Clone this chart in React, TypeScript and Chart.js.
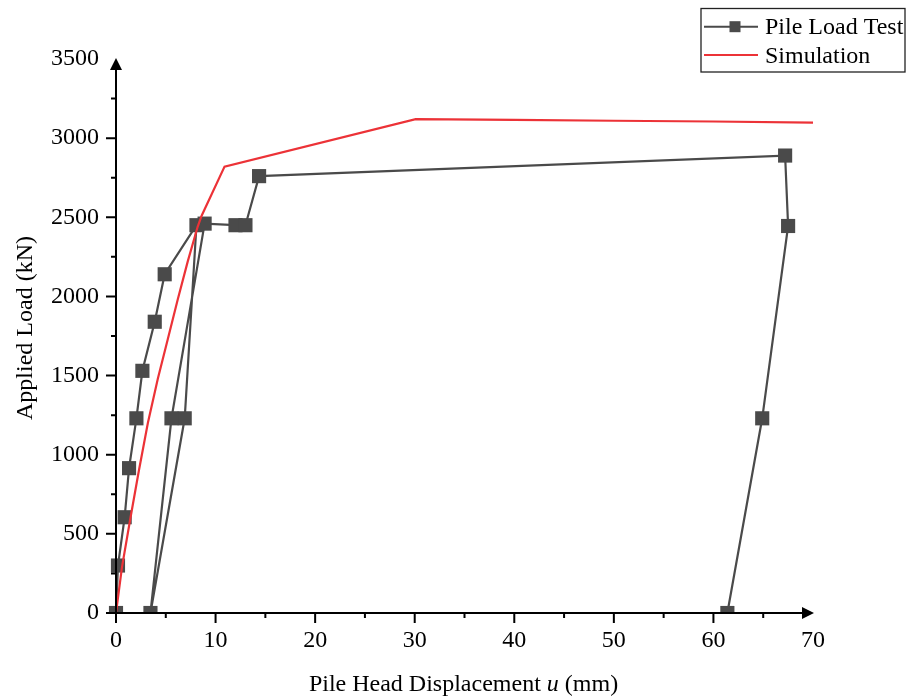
import React, { useEffect, useRef } from "react";
import { Chart, registerables } from "chart.js";

Chart.register(...registerables);

// ---- data ----
const testDisp = [0, 0.2, 0.87, 1.31, 2.05, 2.65, 3.89, 4.89, 8.08, 6.9, 3.46, 5.57, 8.9, 12.0, 13.0, 14.37, 67.2, 67.5, 64.9, 61.4];
const testLoad = [0, 300, 605, 915, 1230, 1530, 1840, 2140, 2450, 1230, 0, 1230, 2460, 2450, 2450, 2760, 2890, 2445, 1230, 0];

const simDisp = [0, 0.6, 1.45, 2.3, 3.2, 4.2, 5.2, 6.2, 7.2, 8.2, 8.6, 10.9, 30.1, 40, 50, 60, 70];
const simLoad = [0, 290, 600, 900, 1200, 1480, 1730, 1980, 2220, 2440, 2510, 2820, 3120, 3115, 3110, 3105, 3098];

const xTickValues = [0, 10, 20, 30, 40, 50, 60, 70];
const yTickValues = [0, 500, 1000, 1500, 2000, 2500, 3000, 3500];
const xMinorValues = [5, 15, 25, 35, 45, 55, 65];
const yMinorValues = [250, 750, 1250, 1750, 2250, 2750, 3250];

const seriesNames = ["Pile Load Test", "Simulation"];
const xTitleParts = ["Pile Head Displacement ", "u", " (mm)"];
const yTitle = "Applied Load (kN)";

// ---- style ----
const FONT = "'Liberation Serif', 'Times New Roman', serif";
const FS = 24;
const TEST_COLOR = "#4a4a4a";
const SIM_COLOR = "#ec3237";

const axesPlugin = {
  id: "axesDecor",
  afterDatasetsDraw(chart: any) {
    const { ctx, scales } = chart;
    const xs = scales.x;
    const ys = scales.y;
    const L = xs.getPixelForValue(xTickValues[0]);
    const R = xs.getPixelForValue(xTickValues[xTickValues.length - 1]);
    const B = ys.getPixelForValue(yTickValues[0]);
    const T = ys.getPixelForValue(yTickValues[yTickValues.length - 1]);
    ctx.save();
    ctx.strokeStyle = "#000";
    ctx.fillStyle = "#000";
    ctx.lineWidth = 2;
    ctx.beginPath();
    ctx.moveTo(L, B);
    ctx.lineTo(R - 6, B);
    ctx.moveTo(L, B);
    ctx.lineTo(L, T + 6);
    xTickValues.slice(0, -1).forEach((v) => {
      const p = xs.getPixelForValue(v);
      ctx.moveTo(p, B);
      ctx.lineTo(p, B + 10);
    });
    xMinorValues.forEach((v) => {
      const p = xs.getPixelForValue(v);
      ctx.moveTo(p, B);
      ctx.lineTo(p, B + 5);
    });
    yTickValues.slice(0, -1).forEach((v) => {
      const p = ys.getPixelForValue(v);
      ctx.moveTo(L, p);
      ctx.lineTo(L - 10, p);
    });
    yMinorValues.forEach((v) => {
      const p = ys.getPixelForValue(v);
      ctx.moveTo(L, p);
      ctx.lineTo(L - 5, p);
    });
    ctx.stroke();
    // arrows
    ctx.beginPath();
    ctx.moveTo(R + 1, B);
    ctx.lineTo(R - 11, B - 6);
    ctx.lineTo(R - 11, B + 6);
    ctx.closePath();
    ctx.fill();
    ctx.beginPath();
    ctx.moveTo(L, T - 1);
    ctx.lineTo(L - 6, T + 11);
    ctx.lineTo(L + 6, T + 11);
    ctx.closePath();
    ctx.fill();
    ctx.restore();
  },
  afterDraw(chart: any) {
    const { ctx, chartArea } = chart;
    ctx.save();
    ctx.fillStyle = "#000";
    // x title with italic u
    ctx.textBaseline = "alphabetic";
    const normal = `${FS}px ${FONT}`;
    const italic = `italic ${FS}px ${FONT}`;
    ctx.font = normal;
    const w0 = ctx.measureText(xTitleParts[0]).width;
    const w2 = ctx.measureText(xTitleParts[2]).width;
    ctx.font = italic;
    const w1 = ctx.measureText(xTitleParts[1]).width;
    const total = w0 + w1 + w2;
    const cx = (chartArea.left + chartArea.right) / 2 - 1;
    let x = cx - total / 2;
    const by = 691;
    ctx.font = normal;
    ctx.textAlign = "left";
    ctx.fillText(xTitleParts[0], x, by);
    x += w0;
    ctx.font = italic;
    ctx.fillText(xTitleParts[1], x, by);
    x += w1;
    ctx.font = normal;
    ctx.fillText(xTitleParts[2], x, by);
    // y title
    ctx.save();
    ctx.translate(32, 328);
    ctx.rotate(-Math.PI / 2);
    ctx.textAlign = "center";
    ctx.font = normal;
    ctx.fillText(yTitle, 0, 0);
    ctx.restore();

    // legend box
    ctx.strokeStyle = "#222";
    ctx.lineWidth = 1.3;
    ctx.strokeRect(701, 8.5, 204, 63.5);
    const rows = [26.7, 55];
    chart.data.datasets.forEach((ds: any, i: number) => {
      const y = rows[i];
      ctx.strokeStyle = ds.borderColor;
      ctx.lineWidth = i === 0 ? 2 : 1.8;
      ctx.beginPath();
      ctx.moveTo(704, y);
      ctx.lineTo(758, y);
      ctx.stroke();
      if (i === 0) {
        ctx.fillStyle = ds.pointBackgroundColor;
        ctx.fillRect(735 - 5.5, y - 5.5, 11, 11);
      }
      ctx.fillStyle = "#000";
      ctx.font = normal;
      ctx.textAlign = "left";
      ctx.textBaseline = "alphabetic";
      ctx.fillText(ds.label, 765, y + 7.5);
    });
    ctx.restore();
  },
};

export default function App() {
  const ref = useRef<HTMLCanvasElement | null>(null);

  useEffect(() => {
    if (!ref.current) return;
    const testData = testDisp.map((x, i) => ({ x, y: testLoad[i] }));
    const simData = simDisp.map((x, i) => ({ x, y: simLoad[i] }));
    const tickFont = { family: FONT, size: FS };
    const chart = new Chart(ref.current, {
      type: "scatter",
      data: {
        datasets: [
          {
            label: seriesNames[0],
            data: testData,
            showLine: true,
            borderColor: TEST_COLOR,
            backgroundColor: TEST_COLOR,
            pointBackgroundColor: TEST_COLOR,
            pointBorderColor: TEST_COLOR,
            borderWidth: 2.2,
            pointStyle: "rect",
            pointRadius: 10,
            pointHoverRadius: 10,
            pointBorderWidth: 0,
            clip: { left: false, top: false, right: false, bottom: 0 } as any,
            order: 2,
          },
          {
            label: seriesNames[1],
            data: simData,
            showLine: true,
            borderColor: SIM_COLOR,
            backgroundColor: SIM_COLOR,
            borderWidth: 2.2,
            pointRadius: 0,
            pointHoverRadius: 0,
            order: 1,
          },
        ],
      },
      options: {
        animation: false,
        responsive: false,
        maintainAspectRatio: false,
        events: [],
        layout: { padding: { left: 0, top: 59, right: 96, bottom: 0 } },
        plugins: { legend: { display: false }, tooltip: { enabled: false } },
        scales: {
          x: {
            type: "linear",
            min: xTickValues[0],
            max: xTickValues[xTickValues.length - 1],
            afterBuildTicks: (s: any) => {
              s.ticks = xTickValues.map((v) => ({ value: v }));
            },
            ticks: { font: tickFont, color: "#000", padding: 3, maxRotation: 0, autoSkip: false, callback: (v: any) => String(v) },
            grid: { display: true, drawOnChartArea: false, drawTicks: true, tickLength: 10, color: "rgba(0,0,0,0)" },
            border: { display: false },
            afterFit: (s: any) => {
              s.height = 83;
            },
          },
          y: {
            type: "linear",
            min: yTickValues[0],
            max: yTickValues[yTickValues.length - 1],
            afterBuildTicks: (s: any) => {
              s.ticks = yTickValues.map((v) => ({ value: v }));
            },
            ticks: { font: tickFont, color: "#000", padding: 7, autoSkip: false, callback: (v: any) => String(v) },
            grid: { display: true, drawOnChartArea: false, drawTicks: true, tickLength: 10, color: "rgba(0,0,0,0)" },
            border: { display: false },
            afterFit: (s: any) => {
              s.width = 116;
            },
          },
        },
      },
      plugins: [axesPlugin],
    } as any);
    return () => chart.destroy();
  }, []);

  return (
    <div style={{ position: "absolute", left: 0, top: 0, width: 909, height: 696, background: "#fff" }}>
      <canvas ref={ref} width={909} height={696} style={{ display: "block", width: 909, height: 696 }} />
    </div>
  );
}
